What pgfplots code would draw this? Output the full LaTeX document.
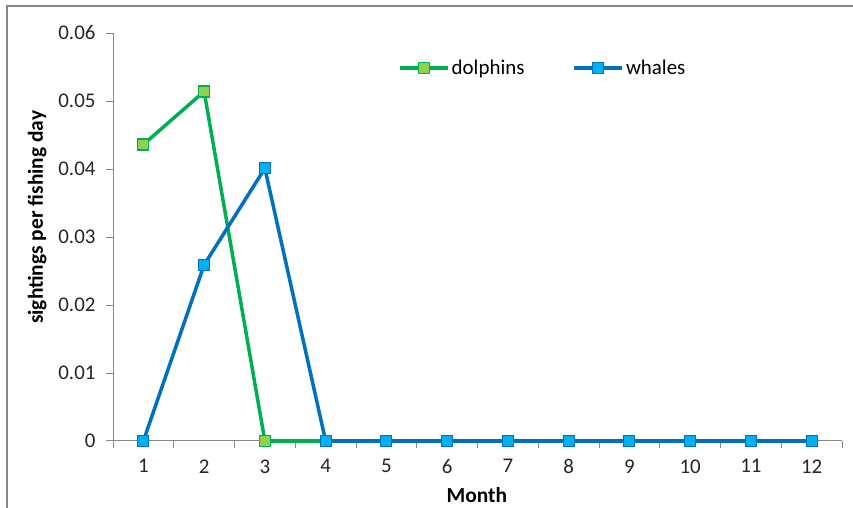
\documentclass[border=0pt]{standalone}
\usepackage{pgfplots}
\pgfplotsset{compat=1.18}
\usepackage{fontspec}
\setmainfont{Carlito}

\definecolor{dgreen}{HTML}{00B050}
\definecolor{lgreen}{HTML}{92D050}
\definecolor{dblue}{HTML}{0070C0}
\definecolor{lblue}{HTML}{00B0F0}
\definecolor{axgray}{HTML}{868686}

\begin{document}
\begin{tikzpicture}
\useasboundingbox (0,0) rectangle (853bp,508bp);
% chart border (cropped at right and bottom)
\draw[axgray, line width=2bp] (7bp,0) -- (7bp,501.5bp) -- (853bp,501.5bp);

\begin{axis}[
  at={(113bp,67bp)}, anchor=south west,
  scale only axis, width=729bp, height=408bp,
  xmin=0.5, xmax=12.5, ymin=0, ymax=0.06,
  axis lines=left, axis line style={axgray, line width=1bp, -},
  xtick={1,...,12},
  minor xtick={0.5,1.5,...,12.5},
  ytick={0,0.01,...,0.06},
  scaled y ticks=false,
  tick align=outside,
  major x tick style={draw=none},
  minor x tick style={axgray, line width=1bp},
  major tick length=7bp, minor tick length=7bp,
  ytick style={axgray, line width=1bp},
  /pgf/number format/fixed,
  /pgf/number format/precision=2,
  /pgf/number format/assume math mode=true,
  ticklabel style={font=\fontsize{21}{25}\selectfont, text=black!85},
  xticklabel style={yshift=-8bp},
  yticklabel style={xshift=-7bp},
  xlabel={\textbf{Month}},
  ylabel={\textbf{sightings per fishing day}},
  every axis x label/.style={at={(axis description cs:0.499,-0.132)}, anchor=center,
    font=\fontsize{21.5}{25}\selectfont},
  every axis y label/.style={at={(axis description cs:-0.104,0.548)}, rotate=90, anchor=center,
    font=\fontsize{21.5}{25}\selectfont},
  legend columns=2,
  legend style={at={(axis description cs:0.391,0.914)}, anchor=west, draw=none, fill=none,
    font=\fontsize{21}{25}\selectfont, inner sep=0pt,
    /tikz/every even column/.append style={column sep=46bp}},
  legend image code/.code={\draw[mark repeat=2, mark phase=2] plot coordinates {(0bp,0bp) (24bp,0bp) (48bp,0bp)};},
  clip=false,
]
\addplot[dgreen, line width=3.5bp, mark=square*, mark size=5.5bp,
  mark options={fill=lgreen, draw=dgreen, line width=1.2bp}]
  coordinates {(1,0.0436) (2,0.0514) (3,0) (4,0) (5,0) (6,0) (7,0) (8,0) (9,0) (10,0) (11,0) (12,0)};
\addlegendentry{dolphins}
\addplot[dblue, line width=3.5bp, mark=square*, mark size=5.5bp,
  mark options={fill=lblue, draw=dblue, line width=1.2bp}]
  coordinates {(1,0) (2,0.0259) (3,0.0401) (4,0) (5,0) (6,0) (7,0) (8,0) (9,0) (10,0) (11,0) (12,0)};
\addlegendentry{whales}
\end{axis}
\end{tikzpicture}
\end{document}
